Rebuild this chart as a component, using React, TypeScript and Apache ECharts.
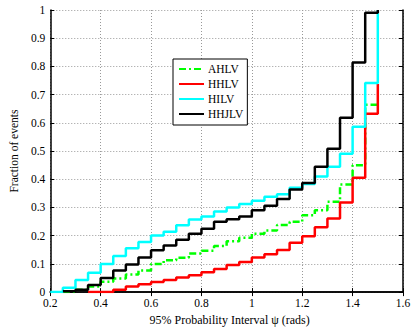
import React, { useEffect, useRef } from "react";
import * as echarts from "echarts";

const xs = [0.2, 0.25, 0.3, 0.35, 0.4, 0.45, 0.5, 0.55, 0.6, 0.65, 0.7, 0.75, 0.8, 0.85, 0.9, 0.95, 1.0, 1.05, 1.1, 1.15, 1.2, 1.25, 1.3, 1.35, 1.4, 1.45, 1.5];

const AHLV = [null, 0, 0.008, 0.02, 0.037, 0.048, 0.062, 0.077, 0.1, 0.113, 0.122, 0.137, 0.147, 0.163, 0.18, 0.193, 0.207, 0.218, 0.238, 0.249, 0.272, 0.29, 0.32, 0.381, 0.45, 0.664, 0.664];
const HHLV = [null, null, null, 0, 0, 0.008, 0.02, 0.028, 0.036, 0.043, 0.052, 0.06, 0.07, 0.082, 0.096, 0.107, 0.123, 0.134, 0.149, 0.175, 0.198, 0.23, 0.261, 0.318, 0.405, 0.632, 0.738];
const HILV = [0, 0.015, 0.043, 0.069, 0.1, 0.128, 0.155, 0.178, 0.201, 0.214, 0.237, 0.257, 0.268, 0.286, 0.3, 0.312, 0.324, 0.338, 0.347, 0.37, 0.383, 0.41, 0.444, 0.49, 0.586, 0.741, 1.0];
const HHJLV = [null, 0.003, 0.008, 0.025, 0.05, 0.077, 0.098, 0.123, 0.148, 0.165, 0.186, 0.207, 0.225, 0.249, 0.258, 0.268, 0.29, 0.306, 0.33, 0.364, 0.387, 0.444, 0.508, 0.618, 0.814, 0.99, 1.0];

const seriesNames = ["AHLV", "HHLV", "HILV", "HHJLV"];
const seriesColors = ["#00ff00", "#ff0000", "#00ffff", "#000000"];
const seriesValues = [AHLV, HHLV, HILV, HHJLV];

const FONT = "'Liberation Serif', 'Times New Roman', serif";

function pairs(vals: (number | null)[]) {
  const out: [number, number][] = [];
  vals.forEach((v, i) => {
    if (v !== null) out.push([xs[i], v]);
  });
  return out;
}

export default function App() {
  const ref = useRef<HTMLDivElement>(null);
  useEffect(() => {
    if (!ref.current) return;
    const chart = echarts.init(ref.current, undefined, { renderer: "svg" });
    const fmt = (v: number) => String(+v.toFixed(1));
    const tickStyle = { show: true, inside: true, length: 4, lineStyle: { color: "#000", width: 1 } };
    const axisLine = { show: true, lineStyle: { color: "#000", width: 1.5 } };
    chart.setOption({
      animation: false,
      backgroundColor: "#fff",
      grid: { left: 36, right: 12, top: 10, bottom: 30, containLabel: false },
      legend: {
        show: true,
        orient: "vertical",
        left: 173,
        top: 59,
        padding: [4, 4, 5, 5],
        itemGap: 3,
        itemWidth: 25,
        itemHeight: 14,
        backgroundColor: "#fff",
        borderColor: "#000",
        borderWidth: 1,
        borderRadius: 0,
        itemStyle: { opacity: 0 },
        textStyle: { fontFamily: FONT, fontSize: 11.5, color: "#000", padding: [0, 0, 0, -1] },
        data: seriesNames,
      },
      xAxis: [
        {
          type: "value",
          min: 0.2,
          max: 1.6,
          interval: 0.2,
          position: "bottom",
          name: "95% Probability Interval \u03c8 (rads)",
          nameLocation: "middle",
          nameGap: 16,
          nameTextStyle: { fontFamily: FONT, fontSize: 12, color: "#000", padding: [0, 0, 0, 6] },
          axisLine,
          axisTick: tickStyle,
          axisLabel: { fontFamily: FONT, fontSize: 11.5, color: "#000", margin: 5, formatter: fmt },
          splitLine: { show: true, lineStyle: { color: "#999", type: [1, 2], width: 1 } },
        },
        {
          type: "value",
          min: 0.2,
          max: 1.6,
          interval: 0.2,
          position: "top",
          axisLine,
          axisTick: tickStyle,
          axisLabel: { show: false },
          splitLine: { show: false },
        },
      ],
      yAxis: [
        {
          type: "value",
          min: 0,
          max: 1,
          interval: 0.1,
          position: "left",
          name: "Fraction of events",
          nameLocation: "middle",
          nameGap: 25,
          nameTextStyle: { fontFamily: FONT, fontSize: 11.5, color: "#000" },
          axisLine,
          axisTick: tickStyle,
          axisLabel: { fontFamily: FONT, fontSize: 11.5, color: "#000", margin: 5, formatter: fmt },
          splitLine: { show: true, lineStyle: { color: "#999", type: [1, 2], width: 1 } },
        },
        {
          type: "value",
          min: 0,
          max: 1,
          interval: 0.1,
          position: "right",
          axisLine,
          axisTick: tickStyle,
          axisLabel: { show: false },
          splitLine: { show: false },
        },
      ],
      series: seriesNames.map((name, i) => ({
        name,
        type: "line",
        step: "end",
        symbol: "none",
        xAxisIndex: 0,
        yAxisIndex: 0,
        data: pairs(seriesValues[i]),
        lineStyle: {
          color: seriesColors[i],
          width: 2.5,
          type: name === "AHLV" ? [7, 3, 2, 3] : "solid",
        },
        itemStyle: { color: seriesColors[i] },
        z: 2 + i,
      })),
    });
    return () => chart.dispose();
  }, []);
  return (
    <div
      ref={ref}
      style={{ position: "fixed", left: 0, top: 0, width: 415, height: 331, background: "#fff" }}
    />
  );
}
